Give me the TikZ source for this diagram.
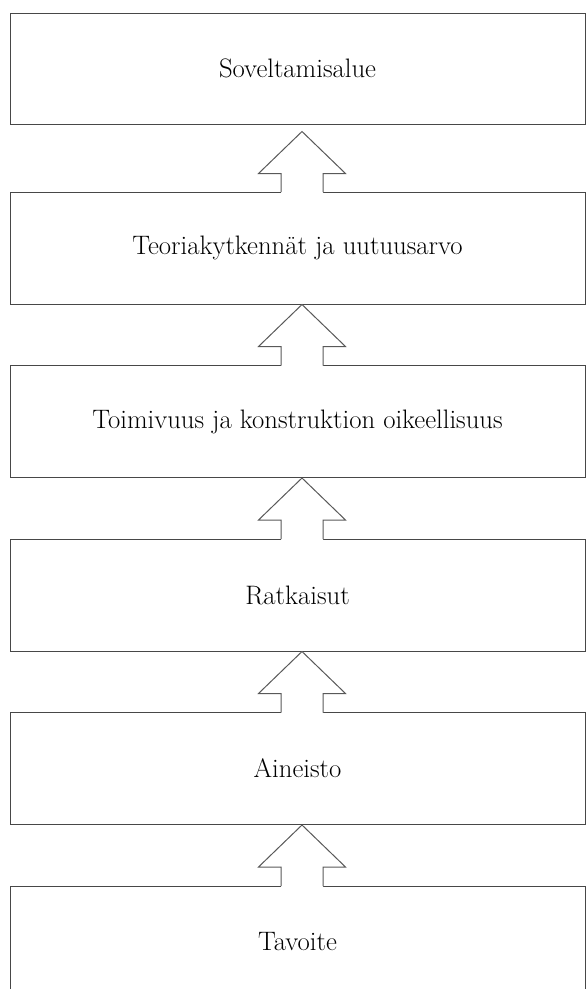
\documentclass[tikz,border=0pt]{standalone}
\usepackage{fontspec}
\usepackage{xcolor}
\usepackage{tikz}
\usetikzlibrary{positioning}

% block arrow from the top of box #2 up to the bottom of box #3
\newcommand{\liftarrow}[3][0pt]{%
  \path ([xshift=4.5pt]#2.north) coordinate (base)
        ([xshift=4.5pt,yshift=-#1]#3.south) coordinate (tip);
  \fill[white] ([xshift=-21pt,yshift=-2.5pt]base) -- ([xshift=-21pt,yshift=-42pt]tip)
    -- ([xshift=-43.5pt,yshift=-42pt]tip) -- (tip)
    -- ([xshift=43.5pt,yshift=-42pt]tip) -- ([xshift=21pt,yshift=-42pt]tip)
    -- ([xshift=21pt,yshift=-2.5pt]base) -- cycle;
  \draw[arr] ([xshift=-21pt,yshift=-0.5pt]base) -- ([xshift=-21pt,yshift=-42pt]tip)
    -- ([xshift=-43.5pt,yshift=-42pt]tip) -- (tip)
    -- ([xshift=43.5pt,yshift=-42pt]tip) -- ([xshift=21pt,yshift=-42pt]tip)
    -- ([xshift=21pt,yshift=-0.5pt]base);
}

\begin{document}
\begin{tikzpicture}[
  x=1pt, y=1pt,
  node distance=60.5pt,
  box/.style={draw=black!72, line width=1pt, fill=white, align=center,
    minimum width=575pt, minimum height=112pt, text=black,
    font=\fontsize{26.7}{31}\selectfont},
  arr/.style={draw=black!65, line width=1pt, line join=miter}
]
\useasboundingbox (0,0) rectangle (587,-989);
\clip (0,0) rectangle (587,-989);

\node[box, minimum height=111pt] (scope) at (297.5,-68.5) {Soveltamisalue};
\node[box, below=67pt of scope] (theory) {Teoriakytkennät ja uutuusarvo};
\node[box, below=of theory] (validity) {Toimivuus ja konstruktion oikeellisuus};
\node[box, below=of validity] (solutions) {Ratkaisut};
\node[box, below=of solutions] (material) {Aineisto};
\node[box, below=of material] (goal) {Tavoite};

\liftarrow[7pt]{theory}{scope}
\liftarrow{validity}{theory}
\liftarrow{solutions}{validity}
\liftarrow{material}{solutions}
\liftarrow{goal}{material}
\end{tikzpicture}
\end{document}
